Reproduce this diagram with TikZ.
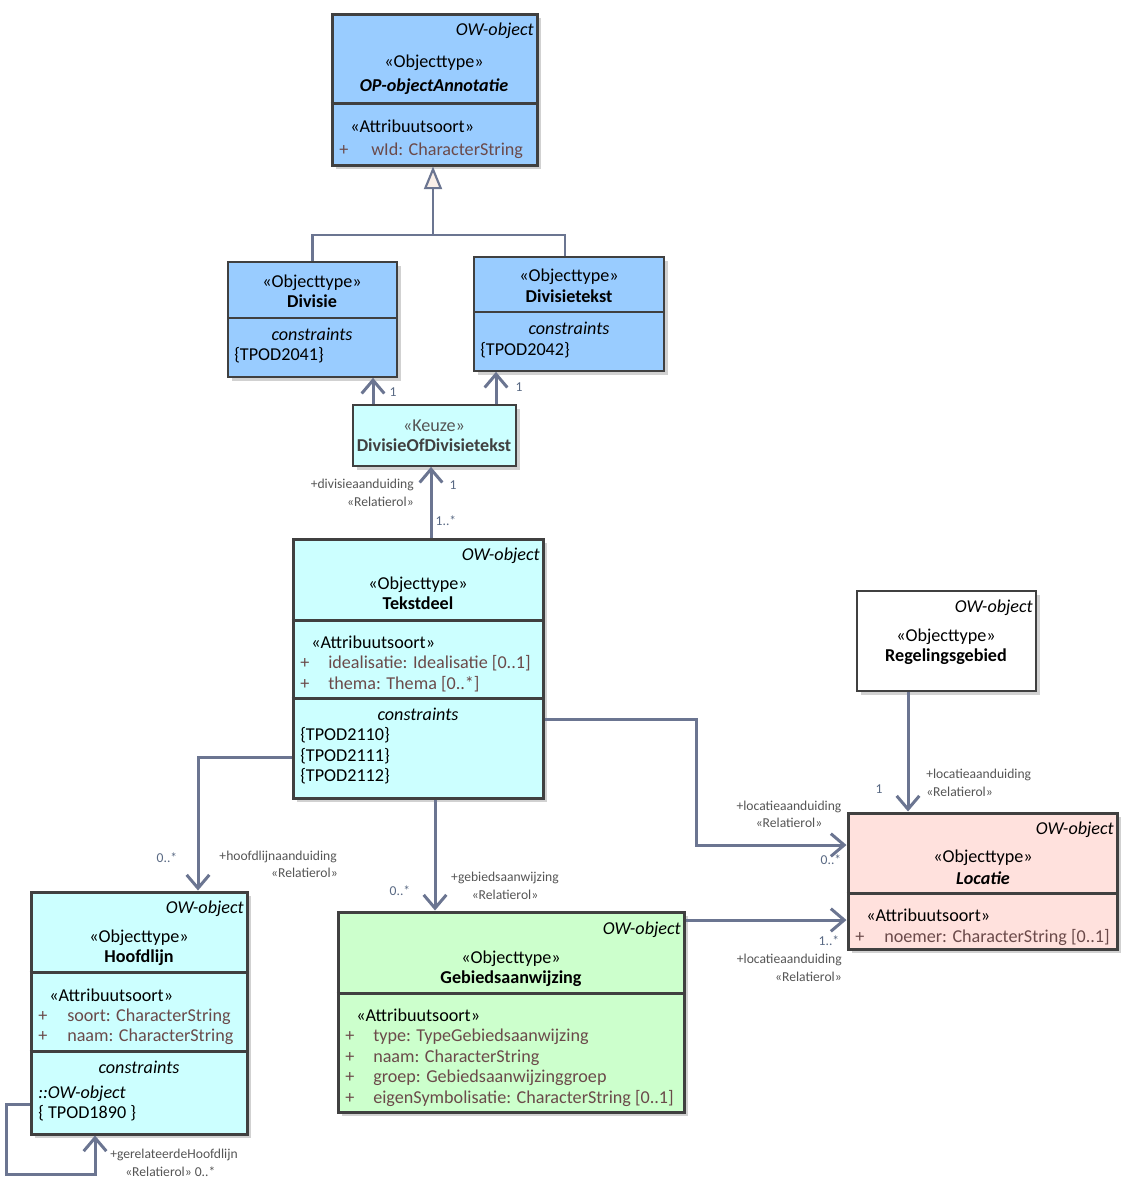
\documentclass[tikz,border=0pt]{standalone}
\usepackage{fontspec}
\setmainfont{Carlito}
\usepackage{tikz}
\usetikzlibrary{positioning,arrows.meta,calc,fit,shadows}
\definecolor{boxline}{HTML}{404040}
\definecolor{conn}{HTML}{6B7591}
\definecolor{opblue}{HTML}{99CCFF}
\definecolor{owcyan}{HTML}{CCFFFF}
\definecolor{gebgreen}{HTML}{CCFFCC}
\definecolor{locpink}{HTML}{FFE1DD}
\definecolor{attrtxt}{HTML}{6B4A4A}
\definecolor{roletxt}{HTML}{555555}
\definecolor{multtxt}{HTML}{5A6A84}
\definecolor{gentri}{HTML}{F9EFE8}

\tikzset{
  cls/.style={draw=boxline, line width=2.25pt, inner sep=0pt,
    drop shadow={shadow xshift=3pt, shadow yshift=-3pt, fill=black!18, opacity=1}},
  cls thin/.style={cls, line width=1.3pt},
  cmp/.style={draw=boxline, line width=2.25pt},
  cmp thin/.style={draw=boxline, line width=1.3pt},
  txt/.style={inner sep=0pt, text height=9pt, text depth=0pt, font=\fontsize{13.6}{16}\selectfont},
  cname/.style={txt, font=\fontsize{13.6}{16}\selectfont\bfseries},
  cnamei/.style={txt, font=\fontsize{13.6}{16}\selectfont\bfseries\itshape},
  itl/.style={txt, font=\fontsize{13.6}{16}\selectfont\itshape},
  owtag/.style={itl, anchor=east},
  lft/.style={txt, anchor=west},
  attr/.style={lft, text=attrtxt},
  role/.style={inner sep=0pt, text height=6.6pt, text depth=0pt, font=\fontsize{10.2}{12}\selectfont, text=roletxt},
  mult/.style={role, text=multtxt},
  assoc/.style={draw=conn, line width=2.25pt, -{Straight Barb[length=10pt, width=17pt]}},
  genl/.style={draw=conn, line width=1.6pt},
  gen/.style={genl, -{Triangle[length=17pt, width=13.5pt, fill=gentri]}},
}

\begin{document}
\begin{tikzpicture}[x=0.75pt, y=-0.75pt]
\useasboundingbox (0,0) rectangle (1134,1192);

% OP-objectAnnotatie
\node[cls, fill=opblue, fit={(332,14)(537,165)}] (op) {};
\draw[cmp] (op.west |- 0,103) -- (op.east |- 0,103);
\node[owtag] (op-ow) at (534,30) {OW-object};
\node[txt] (op-st) at (434,61) {«Objecttype»};
\node[cnamei] (op-nm) at (434,85) {OP-objectAnnotatie};
\node[lft] (op-as) at (350,126) {«Attribuutsoort»};
\node[attr] (op-p1) at (339,149) {+};
\node[attr] (op-a1) at (371,149) {wId: CharacterString};

% Divisie / Divisietekst
\node[cls thin, fill=opblue, fit={(228,262)(397,377)}] (divisie) {};
\draw[cmp thin] (divisie.west |- 0,318) -- (divisie.east |- 0,318);
\node[txt] (div-st) at (312,281) {«Objecttype»};
\node[cname] (div-nm) at (312,301) {Divisie};
\node[itl] (div-ct) at (312,334) {constraints};
\node[lft] (div-c1) at (234,354) {\{TPOD2041\}};

\node[cls thin, fill=opblue, fit={(474,257)(664,371)}] (divtekst) {};
\draw[cmp thin] (divtekst.west |- 0,312) -- (divtekst.east |- 0,312);
\node[txt] (dt-st) at (569,275) {«Objecttype»};
\node[cname] (dt-nm) at (569,296) {Divisietekst};
\node[itl] (dt-ct) at (569,328) {constraints};
\node[lft] (dt-c1) at (480,349) {\{TPOD2042\}};

% keuze
\node[cls thin, fill=owcyan, fit={(353,405)(516,466)}] (keuze) {};
\node[txt, text=roletxt] (kz-st) at (434,425) {«Keuze»};
\node[cname, text=boxline] (kz-nm) at (434,445) {DivisieOfDivisietekst};

% Tekstdeel
\node[cls, fill=owcyan, fit={(293,539)(543,798)}] (tekstdeel) {};
\draw[cmp] (tekstdeel.west |- 0,620) -- (tekstdeel.east |- 0,620);
\draw[cmp] (tekstdeel.west |- 0,698) -- (tekstdeel.east |- 0,698);
\node[owtag] (td-ow) at (540,554) {OW-object};
\node[txt] (td-st) at (418,583) {«Objecttype»};
\node[cname] (td-nm) at (418,603) {Tekstdeel};
\node[lft] (td-as) at (311,642) {«Attribuutsoort»};
\foreach \a [count=\i] in {{idealisatie: Idealisatie [0..1]},{thema: Thema [0..*]}} {
  \node[attr] (td-p\i) at (300,641+21*\i) {+};
  \node[attr] (td-a\i) at (328,641+21*\i) {\a};
}
\node[itl] (td-ct) at (418,714) {constraints};
\foreach \c [count=\i] in {2110,2111,2112}
  \node[lft] (td-c\i) at (300,714+20.5*\i) {\{TPOD\c\}};

% Regelingsgebied
\node[cls thin, fill=white, fit={(857,591)(1036,691)}] (regeling) {};
\node[owtag] (rg-ow) at (1033,606) {OW-object};
\node[txt] (rg-st) at (946,635) {«Objecttype»};
\node[cname] (rg-nm) at (946,655) {Regelingsgebied};

% Locatie
\node[cls, fill=locpink, fit={(848,813)(1117,949)}] (locatie) {};
\draw[cmp] (locatie.west |- 0,893) -- (locatie.east |- 0,893);
\node[owtag] (lc-ow) at (1114,828) {OW-object};
\node[txt] (lc-st) at (983,856) {«Objecttype»};
\node[cnamei] (lc-nm) at (983,878) {Locatie};
\node[lft] (lc-as) at (866,915) {«Attribuutsoort»};
\node[attr] (lc-p1) at (855,936) {+};
\node[attr] (lc-a1) at (884,936) {noemer: CharacterString [0..1]};

% Hoofdlijn
\node[cls, fill=owcyan, fit={(31,892)(247,1134)}] (hoofdlijn) {};
\draw[cmp] (hoofdlijn.west |- 0,972) -- (hoofdlijn.east |- 0,972);
\draw[cmp] (hoofdlijn.west |- 0,1051) -- (hoofdlijn.east |- 0,1051);
\node[owtag] (hl-ow) at (244,907) {OW-object};
\node[txt] (hl-st) at (139,936) {«Objecttype»};
\node[cname] (hl-nm) at (139,956) {Hoofdlijn};
\node[lft] (hl-as) at (49,995) {«Attribuutsoort»};
\foreach \a [count=\i] in {{soort: CharacterString},{naam: CharacterString}} {
  \node[attr] (hl-p\i) at (38,994.5+20.5*\i) {+};
  \node[attr] (hl-a\i) at (67,994.5+20.5*\i) {\a};
}
\node[itl] (hl-ct) at (139,1067) {constraints};
\node[itl, anchor=west] (hl-c1) at (38,1092) {::OW-object};
\node[lft] (hl-c2) at (38,1112) {\{ TPOD1890 \}};

% Gebiedsaanwijzing
\node[cls, fill=gebgreen, fit={(338,912)(684,1112)}] (gebied) {};
\draw[cmp] (gebied.west |- 0,993) -- (gebied.east |- 0,993);
\node[owtag] (gb-ow) at (681,928) {OW-object};
\node[txt] (gb-st) at (511,957) {«Objecttype»};
\node[cname] (gb-nm) at (511,977) {Gebiedsaanwijzing};
\node[lft] (gb-as) at (356,1015) {«Attribuutsoort»};
\foreach \a [count=\i] in {{type: TypeGebiedsaanwijzing},{naam: CharacterString},
    {groep: Gebiedsaanwijzinggroep},{eigenSymbolisatie: CharacterString [0..1]}} {
  \node[attr] (gb-p\i) at (345,1015+20.5*\i) {+};
  \node[attr] (gb-a\i) at (373,1015+20.5*\i) {\a};
}

% generalisatie
\coordinate (genjoin) at (433,235);
\draw[genl] (divisie.north) |- (genjoin) -| (divtekst.north -| 565,0);
\draw[gen] (genjoin) -- (op.south -| genjoin);

% associaties
\draw[assoc] (keuze.north -| 373,0) -- (divisie.south -| 373,0);
\node[mult] (m-div) at (393,392) {1};
\draw[assoc] (keuze.north -| 496,0) -- (divtekst.south -| 496,0);
\node[mult] (m-dt) at (519,387) {1};

\draw[assoc] (tekstdeel.north -| 431,0) -- (keuze.south -| 431,0);
\node[role, anchor=east] (r-dv1) at (414,484) {+divisieaanduiding};
\node[role, anchor=east] (r-dv2) at (414,502) {«Relatierol»};
\node[mult] (m-dv1) at (453,485) {1};
\node[mult] (m-dv2) at (446,521) {1..*};

\draw[assoc] (tekstdeel.west |- 0,757) -| (hoofdlijn.north -| 198,0);
\node[mult] (m-hl) at (167,858) {0..*};
\node[role, anchor=east] (r-hl1) at (337,856) {+hoofdlijnaanduiding};
\node[role, anchor=east] (r-hl2) at (338,873) {«Relatierol»};

\draw[assoc] (tekstdeel.south -| 435,0) -- (gebied.north -| 435,0);
\node[mult] (m-gb) at (400,891) {0..*};
\node[role] (r-gb1) at (505,877) {+gebiedsaanwijzing};
\node[role] (r-gb2) at (505,895) {«Relatierol»};

\draw[assoc] (tekstdeel.east |- 0,719) -| (696,845) -- (locatie.west |- 0,845);
\node[role] (r-lt1) at (789,806) {+locatieaanduiding};
\node[role] (r-lt2) at (789,823) {«Relatierol»};
\node[mult] (m-lt) at (831,860) {0..*};

\draw[assoc] (regeling.south -| 908,0) -- (locatie.north -| 908,0);
\node[mult] (m-rg) at (879,789) {1};
\node[role, anchor=west] (r-rg1) at (926,774) {+locatieaanduiding};
\node[role, anchor=west] (r-rg2) at (926,792) {«Relatierol»};

\draw[assoc] (gebied.east |- 0,920) -- (locatie.west |- 0,920);
\node[mult] (m-gl) at (829,941) {1..*};
\node[role, anchor=east] (r-gl1) at (842,959) {+locatieaanduiding};
\node[role, anchor=east] (r-gl2) at (842,977) {«Relatierol»};

\draw[assoc] (hoofdlijn.west |- 0,1104) -| (6,1174) -| (hoofdlijn.south -| 95,0);
\node[role, anchor=west] (r-hh1) at (110,1154) {+gerelateerdeHoofdlijn};
\node[role, anchor=west] (r-hh2) at (125,1172) {«Relatierol» 0..*};
\end{tikzpicture}
\end{document}
